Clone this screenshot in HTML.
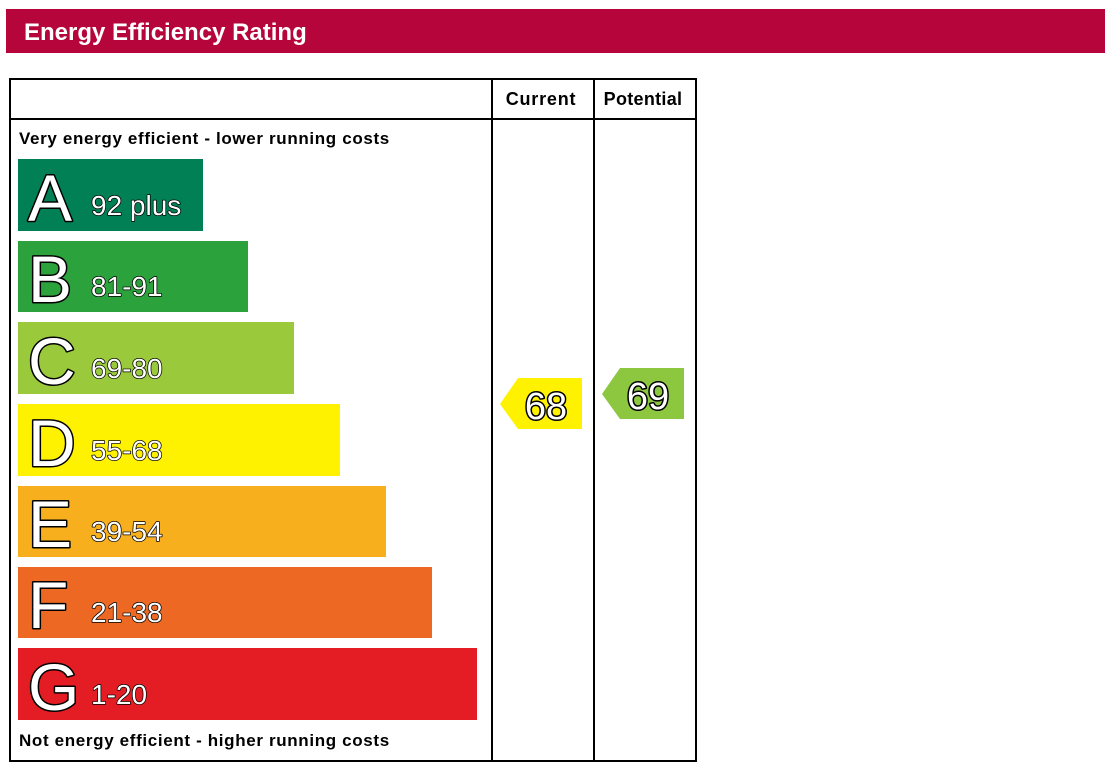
<!DOCTYPE html>
<html><head><meta charset="utf-8"><style>body{margin:0;background:#fff}svg{display:block}</style></head><body>
<svg width="1112" height="773" xmlns="http://www.w3.org/2000/svg" font-family="Liberation Sans, Arial, sans-serif">
<rect x="6" y="9" width="1099" height="44" fill="#b5053a"/>
<text x="24" y="40" font-size="24" font-weight="bold" fill="#fff">Energy Efficiency Rating</text>
<g fill="none" stroke="#000" stroke-width="2">
<rect x="10" y="79" width="686" height="682"/>
<line x1="10" y1="119" x2="696" y2="119"/>
<line x1="492" y1="79" x2="492" y2="761"/>
<line x1="594" y1="79" x2="594" y2="761"/>
</g>
<text x="541" y="105" font-size="18" font-weight="bold" text-anchor="middle" letter-spacing="0.8">Current</text>
<text x="643" y="105" font-size="18" font-weight="bold" text-anchor="middle" letter-spacing="0.3">Potential</text>
<text x="19" y="144" font-size="17" font-weight="bold" letter-spacing="0.65">Very energy efficient - lower running costs</text>
<text x="19" y="746" font-size="17" font-weight="bold" letter-spacing="0.65">Not energy efficient - higher running costs</text>
<g stroke="#000" stroke-width="3" paint-order="stroke" fill="#fff" stroke-linejoin="round">
<rect x="18" y="159" width="185" height="72" fill="#008054" stroke="none"/>
<text x="28" y="221" font-size="66">A</text><text x="91" y="215" font-size="28" stroke-width="1.5">92 plus</text>
<rect x="18" y="241" width="230" height="71" fill="#2ca23c" stroke="none"/>
<text x="28" y="302" font-size="66">B</text><text x="91" y="296" font-size="28" stroke-width="1.5">81-91</text>
<rect x="18" y="322" width="276" height="72" fill="#9aca3c" stroke="none"/>
<text x="28" y="384" font-size="66">C</text><text x="91" y="378" font-size="28" stroke-width="1.5">69-80</text>
<rect x="18" y="404" width="322" height="72" fill="#fff200" stroke="none"/>
<text x="28" y="466" font-size="66">D</text><text x="91" y="460" font-size="28" stroke-width="1.5">55-68</text>
<rect x="18" y="486" width="368" height="71" fill="#f7af1d" stroke="none"/>
<text x="28" y="547" font-size="66">E</text><text x="91" y="541" font-size="28" stroke-width="1.5">39-54</text>
<rect x="18" y="567" width="414" height="71" fill="#ec6823" stroke="none"/>
<text x="28" y="628" font-size="66">F</text><text x="91" y="622" font-size="28" stroke-width="1.5">21-38</text>
<rect x="18" y="648" width="459" height="72" fill="#e31d23" stroke="none"/>
<text x="28" y="710" font-size="66">G</text><text x="91" y="704" font-size="28" stroke-width="1.5">1-20</text>
<polygon points="500,404 518,378 582,378 582,429 518,429" fill="#fff200" stroke="none"/>
<text x="546" y="419" font-size="38" text-anchor="middle" stroke-width="3">68</text>
<polygon points="602,394 620,368 684,368 684,419 620,419" fill="#8dc63f" stroke="none"/>
<text x="648" y="409" font-size="38" text-anchor="middle" stroke-width="3">69</text>
</g>
</svg>
</body></html>
